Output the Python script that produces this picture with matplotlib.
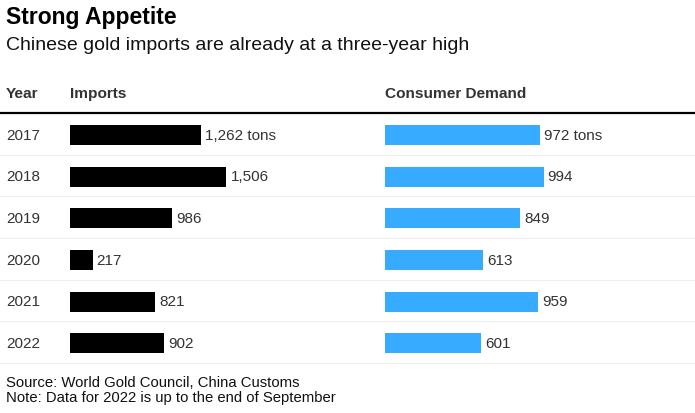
import matplotlib
matplotlib.use("Agg")
import matplotlib.pyplot as plt
from matplotlib.lines import Line2D

years = ["2017", "2018", "2019", "2020", "2021", "2022"]
imports = [1262, 1506, 986, 217, 821, 902]
consumer = [972, 994, 849, 613, 959, 601]
import_labels = ["1,262 tons", "1,506", "986", "217", "821", "902"]
consumer_labels = ["972 tons", "994", "849", "613", "959", "601"]

plt.rcParams['font.family'] = ['Liberation Sans', 'DejaVu Sans']
W, H = 695, 414
fig = plt.figure(figsize=(W / 100, H / 100), dpi=100)
fig.patch.set_facecolor("white")

def fx(px):
    return px / W

def fy(py):
    return 1 - py / H

TEXT = "#333333"
BLUE = "#36abff"

fig.text(fx(6), fy(24), "Strong Appetite", fontsize=16.5, fontweight="bold",
         color="black", va="baseline", ha="left")
fig.text(fx(6), fy(50), "Chinese gold imports are already at a three-year high",
         fontsize=14, color="#111111", va="baseline", ha="left")

fig.text(fx(6), fy(98), "Year", fontsize=11.1, fontweight="bold", color=TEXT, va="baseline")
fig.text(fx(70), fy(98), "Imports", fontsize=11.1, fontweight="bold", color=TEXT, va="baseline")
fig.text(fx(385), fy(98), "Consumer Demand", fontsize=11.1, fontweight="bold", color=TEXT, va="baseline")

top, bottom = 114, 364
n = len(years)
row_h = (bottom - top) / n

# header line
fig.add_artist(Line2D([0, 1], [fy(top), fy(top)], color="black", lw=1.6, transform=fig.transFigure))
for i in range(1, n + 1):
    yy = top + i * row_h
    fig.add_artist(Line2D([0, 1], [fy(yy), fy(yy)], color="#eeeeee", lw=0.8, transform=fig.transFigure))

shift = 1.0
axpos_b = fy(bottom + shift)
axh = (bottom - top) / H

ax1 = fig.add_axes([fx(70), axpos_b, fx(280), axh])
ax2 = fig.add_axes([fx(385), axpos_b, fx(310), axh])

ypos = list(range(n))
ax1.barh(ypos, imports, height=0.48, color="black")
ax1.set_xlim(0, 280 / 0.1038)
ax2.barh(ypos, consumer, height=0.48, color=BLUE)
ax2.set_xlim(0, 310 / 0.1595)

for ax in (ax1, ax2):
    ax.set_ylim(n - 0.5, -0.5)
    ax.axis("off")
    ax.patch.set_alpha(0)

for i in range(n):
    ax1.annotate(import_labels[i], (imports[i], i), xytext=(3, 0), textcoords="offset points",
                 va="center", ha="left", fontsize=11, color=TEXT)
    ax2.annotate(consumer_labels[i], (consumer[i], i), xytext=(3, 0), textcoords="offset points",
                 va="center", ha="left", fontsize=11, color=TEXT)
    ax1.annotate(years[i], (0, i), xycoords=("axes fraction", "data"), xytext=(-64 * 0.72, 0),
                 textcoords="offset points", va="center", ha="left", fontsize=11, color=TEXT)

fig.text(fx(6), fy(387), "Source: World Gold Council, China Customs", fontsize=10.7,
         color="#111111", va="baseline")
fig.text(fx(6), fy(402), "Note: Data for 2022 is up to the end of September", fontsize=10.7,
         color="#111111", va="baseline")

fig.savefig("out.png", dpi=100, facecolor="white")
